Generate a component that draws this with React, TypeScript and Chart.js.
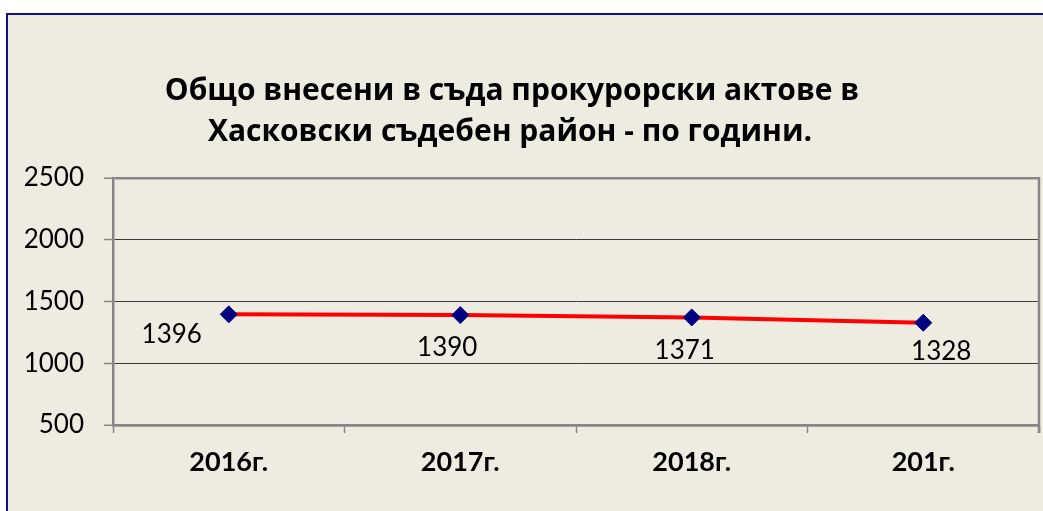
import React, { useEffect, useRef } from "react";
import { Chart, registerables } from "chart.js";

Chart.register(...registerables);

const categories = ["2016г.", "2017г.", "2018г.", "201г."];
const values = [1396, 1390, 1371, 1328];
const titleLines = [
  "Общо внесени в съда прокурорски актове в",
  "Хасковски съдебен район - по години.",
];
const yMin = 500;
const yMax = 2500;
const yStep = 500;
// label offsets relative to each point (dx, dy) in px
const labelDx = [-57, -13, -7, 18];
const labelDy = [20, 33, 33, 29];

const FONT = "Lato, 'Open Sans', sans-serif";
const TITLE_FONT = "'Open Sans', Lato, sans-serif";
const BG = "#EEECE1";
const FRAME = "#868686";

const decorPlugin = {
  id: "decor",
  beforeDraw(chart: any) {
    const { ctx, width, height } = chart;
    ctx.save();
    ctx.fillStyle = "#ffffff";
    ctx.fillRect(0, 0, width, height);
    ctx.fillStyle = BG;
    ctx.fillRect(6, 13, width - 6, height - 13);
    ctx.strokeStyle = "#10108C";
    ctx.lineWidth = 2;
    ctx.beginPath();
    ctx.moveTo(6, 14);
    ctx.lineTo(width, 14);
    ctx.moveTo(7, 13);
    ctx.lineTo(7, height);
    ctx.stroke();
    ctx.restore();
  },
  afterDraw(chart: any) {
    const { ctx, chartArea } = chart;
    ctx.save();
    ctx.strokeStyle = FRAME;
    ctx.lineWidth = 2.5;
    ctx.beginPath();
    ctx.moveTo(chartArea.right, chartArea.top - 1);
    ctx.lineTo(chartArea.right, chartArea.bottom + 8);
    ctx.stroke();
    ctx.fillStyle = "#000000";
    ctx.font = `bold 30px ${TITLE_FONT}`;
    ctx.textAlign = "center";
    ctx.textBaseline = "alphabetic";
    ctx.fillText(titleLines[0], 512, 100);
    ctx.fillText(titleLines[1], 510, 141);
    ctx.restore();
  },
  afterDatasetsDraw(chart: any) {
    const { ctx } = chart;
    const meta = chart.getDatasetMeta(0);
    ctx.save();
    ctx.fillStyle = "#000000";
    ctx.font = `26px ${FONT}`;
    ctx.textAlign = "center";
    ctx.textBaseline = "middle";
    meta.data.forEach((pt: any, i: number) => {
      ctx.fillText(String(values[i]), pt.x + labelDx[i], pt.y + labelDy[i]);
    });
    ctx.restore();
  },
};

export default function App() {
  const ref = useRef<HTMLCanvasElement | null>(null);
  useEffect(() => {
    if (!ref.current) return;
    const chart = new Chart(ref.current, {
      type: "line",
      data: {
        labels: categories,
        datasets: [
          {
            data: values,
            borderColor: "#FF0000",
            borderWidth: 4,
            pointStyle: "rectRot",
            pointRadius: 8.5,
            pointBackgroundColor: "#000080",
            pointBorderColor: "#000080",
            pointBorderWidth: 1,
            tension: 0,
          },
        ],
      },
      options: {
        responsive: false,
        animation: false,
        layout: { autoPadding: false, padding: { top: 178, right: 4, left: 0, bottom: 0 } },
        plugins: {
          legend: { display: false },
          title: { display: false },
          tooltip: { enabled: false },
        },
        scales: {
          x: {
            offset: true,
            grid: {
              offset: true,
              drawOnChartArea: false,
              drawTicks: true,
              tickLength: 8,
              tickColor: FRAME,
              tickWidth: 1.5,
            },
            border: { color: FRAME, width: 2.5 },
            ticks: {
              color: "#000000",
              font: { family: FONT, size: 27, weight: "bold" },
              padding: 13,
              maxRotation: 0,
            },
            afterFit(scale: any) {
              scale.height = 86;
              scale.paddingLeft = 0;
              scale.paddingRight = 0;
            },
          },
          y: {
            min: yMin,
            max: yMax,
            ticks: {
              stepSize: yStep,
              color: "#000000",
              font: { family: FONT, size: 26 },
              padding: 20,
              callback: (v: any) => String(v),
            },
            grid: {
              color: (c: any) =>
                c.tick && (c.tick.value === yMax || c.tick.value === yMin) ? FRAME : "#3a3a3a",
              lineWidth: (c: any) =>
                c.tick && (c.tick.value === yMax || c.tick.value === yMin) ? 2.5 : 1,
              tickColor: FRAME,
              tickLength: 9,
              tickWidth: 1.5,
            },
            border: { color: FRAME, width: 2.5 },
            afterFit(scale: any) {
              scale.width = 113;
            },
          },
        },
      },
      plugins: [decorPlugin],
    } as any);
    return () => chart.destroy();
  }, []);
  return (
    <div style={{ position: "fixed", left: 0, top: 0, width: 1043, height: 511 }}>
      <canvas ref={ref} width={1043} height={511} style={{ display: "block" }} />
    </div>
  );
}
